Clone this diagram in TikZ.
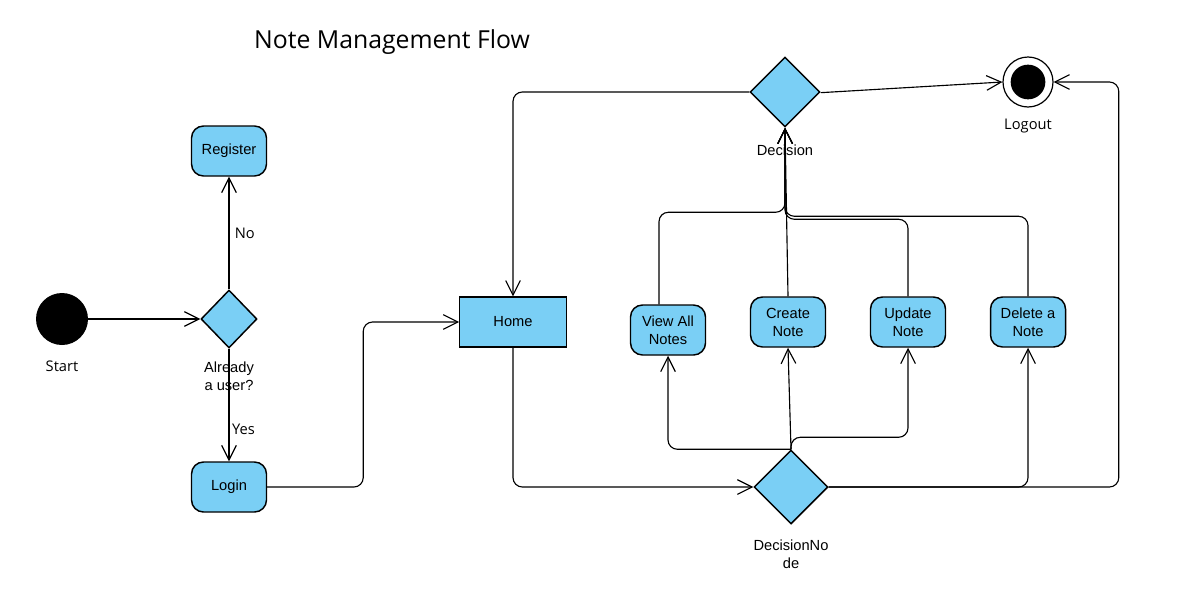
\documentclass[tikz,border=0pt]{standalone}
\usepackage{fontspec}
\setmainfont{Liberation Sans}
\newfontfamily\opensans{Open Sans}
\usetikzlibrary{shapes.geometric,arrows.meta}
\definecolor{nodeblue}{RGB}{122,207,245}
\tikzset{
  act/.style={draw, line width=1.1pt, fill=nodeblue, rounded corners=9pt,
    minimum width=56.25pt, minimum height=37.5pt, inner sep=0pt, align=center,
    font=\fontsize{11}{13.5}\selectfont},
  homebox/.style={draw, line width=0.8pt, fill=nodeblue, minimum width=80pt,
    minimum height=37.5pt, inner sep=0pt, font=\fontsize{11}{13.5}\selectfont},
  dec/.style={draw, line width=1.1pt, fill=nodeblue, diamond, aspect=1, inner sep=0pt},
  arr/.style={line width=0.85pt, rounded corners=7pt, -{Straight Barb[length=11pt,width=11pt,line width=0.85pt]}},
  lbl/.style={align=center, font=\fontsize{11}{13.5}\selectfont, inner sep=0pt},
  olbl/.style={align=center, font=\opensans\fontsize{11}{13.5}\selectfont, inner sep=0pt},
}
\begin{document}
\begin{tikzpicture}[x=0.75pt,y=-0.75pt]
\useasboundingbox (0,0) rectangle (1187,614);
\fill[white] (0,0) rectangle (1187,614);

\node[olbl, font=\opensans\fontsize{18.6}{22}\selectfont] (title) at (392,42) {Note Management Flow};

% start
\node[circle, fill=black, minimum size=39pt, inner sep=0pt] (start) at (62,319) {};
\node[olbl] (startlbl) at (62,366) {Start};

% already a user
\node[dec, minimum width=42pt, minimum height=43.5pt] (user) at (229,319) {};
\node[lbl] (userlbl) at (229,376) {Already\\a user?};

\node[act] (register) at (229,151) {Register};
\node[act] (login) at (229,487) {Login};

\draw[arr] (start) -- (user.west);
\draw[arr] (user.north) -- node[olbl, right, pos=0.5, xshift=4pt] (no) {No} (register.south);
\draw[arr] (user.south) -- node[olbl, right, pos=0.72, xshift=2pt] (yes) {Yes} (login.north);

% home
\node[homebox] (home) at (513,322) {Home};
\draw[arr] (login.east) -- ++(96,0) |- (home.west);

% decision node bottom
\node[dec, minimum width=55.5pt, minimum height=55.5pt] (dn) at (791,487) {};
\node[lbl] (dnlbl) at (791,554) {DecisionNo\\de};
\draw[arr] (home.south) |- (dn.west);

% top decision
\node[dec, minimum width=52.5pt, minimum height=52.5pt] (dtop) at (785,92) {};
\node[lbl] (dtoplbl) at (785,150) {Decision};

% logout
\node[circle, draw, line width=0.9pt, minimum size=37.5pt, inner sep=0pt] (logout) at (1028,82) {};
\node[circle, fill=black, minimum size=26pt, inner sep=0pt] (logoutin) at (1028,82) {};
\node[olbl] (logoutlbl) at (1028,126) {Logout};

% activities
\node[act] (view) at (668,330) {View All\\Notes};
\node[act] (create) at (788,322) {Create\\Note};
\node[act] (update) at (908,322) {Update\\Note};
\node[act] (delete) at (1028,322) {Delete a\\Note};

% from top decision
\draw[arr] (dtop.west) -| (home.north);
\draw[arr] ([yshift=-0.5pt]dtop.east) -- (logout.west);

% from decision node
\draw[arr] (dn.north) -| (view.south);
\draw[arr] (dn.north) -- (create.south);
\draw[arr] (dn.north) -- ++(0,-12) -| (update.south);
\draw[arr] (dn.east) -| (delete.south);
\draw[arr] (dn.east) -- ++(290,0) |- (logout.east);

% back to top decision
\draw[arr] ([xshift=-6.75pt]view.north) -- ++(0,-92) -| (dtop.south);
\draw[arr] (create.north) -- (dtop.south);
\draw[arr] (update.north) -- ++(0,-77) -| (dtop.south);
\draw[arr] (delete.north) -- ++(0,-80) -| (dtop.south);
\end{tikzpicture}
\end{document}
